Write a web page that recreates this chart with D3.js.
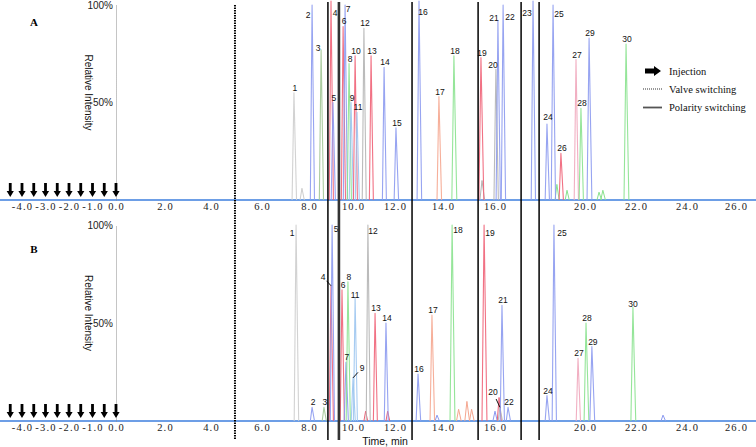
<!DOCTYPE html>
<html>
<head>
<meta charset="utf-8">
<script src="https://cdn.jsdelivr.net/npm/d3@7"></script>
<style>
  body { margin: 0; background: #fff; }
  svg { display: block; }
</style>
</head>
<body>
<div id="chart"></div>
<script>
// ---- data ----
const xTickValues = [-4, -3, -2, -1, 0, 2, 4, 6, 8, 10, 12, 14, 16, 20, 22, 24, 26];
const yTickValues = [50, 100];
const injectionTimes = [-4.5, -4, -3.5, -3, -2.5, -2, -1.5, -1, -0.5, 0];
const valveTimes = [4.94];
const polarityTimes = [8.86, 9.36, 12.71, 15.35, 17.16, 17.96];

// panel A: labelled peaks
const peakIdA = [1, 2, 3, 4, 5, 6, 7, 8, 9, 10, 11, 12, 13, 14, 15, 16, 17, 18, 19, 20, 21, 22, 23, 24, 25, 26, 27, 28, 29, 30];
const peakTimeA = [7.36, 8.14, 8.55, 9.0, 9.09, 9.55, 9.64, 9.82, 9.91, 10.1, 10.19, 10.52, 10.86, 11.48, 12.04,
    13.0, 13.83, 14.42, 15.46, 16.04, 16.13, 16.36, 17.69, 18.31, 18.58, 18.93, 19.6, 19.82, 20.16, 21.61];
const peakHeightA = [55, 100, 77, 102, 50, 89, 100, 70, 50, 74, 45, 88, 74, 68, 37,
    102, 53, 74, 73, 67, 92, 100, 102, 39, 100, 24, 72, 47, 83, 80];
const peakTraceA = ['pale', 'blue', 'olive', 'red', 'blue', 'red', 'blue', 'green', 'sky', 'red', 'sky', 'grey', 'red', 'blue', 'blue',
    'blue', 'salmon', 'green', 'red', 'grey', 'blue', 'blue', 'blue', 'blue', 'blue', 'red', 'pink', 'green', 'blue', 'green'];
// panel A: small unlabelled peaks
const minorTimeA = [7.7, 15.5, 18.75, 19.2, 20.55, 20.7];
const minorHeightA = [6, 10, 8, 5, 4, 5];
const minorTraceA = ['pale', 'grey', 'green', 'green', 'green', 'green'];

// panel B: labelled peaks
const peakIdB = [1, 2, 3, 4, 5, 6, 7, 8, 9, 11, 12, 13, 14, 16, 17, 18, 19, 20, 21, 22, 24, 25, 27, 28, 29, 30];
const peakTimeB = [7.45, 8.14, 8.68, 9.0, 9.05, 9.5, 9.68, 9.77, 10.0, 10.1, 10.71, 11.05, 11.57,
    12.96, 13.54, 14.35, 15.58, 16.22, 16.31, 16.58, 18.31, 18.62, 19.69, 20.04, 20.27, 21.88];
const peakHeightB = [100, 7, 7, 69, 100, 67, 30, 71, 22, 63, 100, 55, 50,
    24, 54, 100, 100, 7, 59, 7, 13, 100, 32, 50, 38, 58];
const peakTraceB = ['pale', 'blue', 'olive', 'red', 'blue', 'red', 'blue', 'green', 'sky', 'sky', 'grey', 'red', 'blue',
    'blue', 'salmon', 'green', 'red', 'grey', 'blue', 'blue', 'blue', 'blue', 'pink', 'green', 'blue', 'green'];
// panel B: small unlabelled peaks
const minorTimeB = [10.6, 11.65, 13.75, 14.6, 14.92, 15.1, 16.0, 16.18, 23.06];
const minorHeightB = [5, 5, 3, 6, 10, 6, 5, 12, 3];
const minorTraceB = ['red', 'red', 'blue', 'salmon', 'salmon', 'salmon', 'blue', 'red', 'blue'];

// ---- layout ----
const width = 756, height = 447;
const traceColor = d3.scaleOrdinal()
    .domain(['pale', 'grey', 'blue', 'green', 'olive', 'red', 'salmon', 'pink', 'sky'])
    .range(['#cdcdcd', '#b4b4b4', '#8c9af0', '#8ae28e', '#a2c696', '#ef6277', '#f5a68f', '#f0a6bb', '#9cc5ef']);

// the figure is spliced from several exports, so the time axis is piecewise
const x = d3.scaleLinear()
    .domain([-4, 0, 2, 4, 6, 8, 10, 12, 14, 16, 20, 22, 24, 26])
    .range([22, 116, 165, 211, 262, 309, 353, 395, 443, 495, 585, 636, 687, 736]);

const panels = [
    {
        key: 'A', top: 5, base: 200,
        ids: peakIdA, times: peakTimeA, heights: peakHeightA, traces: peakTraceA,
        minorTimes: minorTimeA, minorHeights: minorHeightA, minorTraces: minorTraceA,
        nudge: { 2: [-4, 10], 3: [-3, -2], 4: [4, 12], 7: [3, 4], 16: [4, 11], 20: [-3, -4],
                 21: [-4, -3], 22: [7, 12], 23: [-6, 12], 24: [1, -7], 25: [6, 9] },
        leaders: []
    },
    {
        key: 'B', top: 225, base: 421,
        ids: peakIdB, times: peakTimeB, heights: peakHeightB, traces: peakTraceB,
        minorTimes: minorTimeB, minorHeights: minorHeightB, minorTraces: minorTraceB,
        nudge: { 1: [-4, 8], 4: [-8, -9], 5: [4, 4], 9: [9, -10], 12: [5, 6], 18: [6, 5],
                 19: [6, 8], 20: [-7, -15], 25: [8, 8], 11: [0, -3], 30: [0, -3] },
        leaders: [4, 9, 20]
    }
];

const svg = d3.select('#chart').append('svg')
    .attr('width', width)
    .attr('height', height)
    .style('font-family', 'Liberation Sans, Arial, sans-serif');

const peakLine = (y) => d3.line()
    .x(d => x(d[0]))
    .y(d => y(d[1]));

panels.forEach(p => {
    const y = d3.scaleLinear().domain([0, 100]).range([p.base, p.top]);
    const g = svg.append('g').attr('class', 'panel-' + p.key);

    // baseline (the x axis line)
    g.append('line')
        .attr('x1', 0).attr('x2', width)
        .attr('y1', p.base).attr('y2', p.base)
        .attr('stroke', '#6d9ee6')
        .attr('stroke-width', 2);

    // y axis, dotted
    const yAxis = g.append('g')
        .attr('transform', `translate(${x(0)},0)`)
        .call(d3.axisLeft(y).tickValues(yTickValues).tickSize(0).tickSizeOuter(0).tickPadding(3)
            .tickFormat(d => d + '%'));
    yAxis.select('.domain')
        .attr('stroke', '#8a8a8a')
        .attr('stroke-dasharray', '1,1');
    yAxis.selectAll('text')
        .style('font-size', '10px')
        .style('font-family', 'Liberation Sans, Arial, sans-serif')
        .attr('fill', '#222');

    g.append('text')
        .attr('transform', `translate(88,${(p.top + p.base) / 2 - 10}) rotate(90)`)
        .attr('text-anchor', 'middle')
        .attr('dominant-baseline', 'central')
        .style('font-size', '10px')
        .attr('fill', '#111')
        .text('Relative Intensity');

    g.append('text')
        .attr('x', 34)
        .attr('y', p.top + (p.key === 'A' ? 21 : 28))
        .attr('text-anchor', 'middle')
        .style('font-family', 'Liberation Serif, Times New Roman, serif')
        .style('font-weight', 'bold')
        .style('font-size', '11px')
        .text(p.key);

    // x axis tick labels
    const xAxis = g.append('g')
        .attr('transform', `translate(0,${p.base})`)
        .call(d3.axisBottom(x).tickValues(xTickValues).tickSize(0).tickPadding(3)
            .tickFormat(d => d.toFixed(1)));
    xAxis.select('.domain').remove();
    xAxis.selectAll('text')
        .style('font-family', 'Liberation Serif, Times New Roman, serif')
        .style('font-size', '10.5px')
        .style('letter-spacing', '1.2px')
        .attr('fill', '#222');

    // small unlabelled peaks
    g.selectAll('path.minor')
        .data(p.minorTimes.map((t, i) => ({ t, h: p.minorHeights[i], trace: p.minorTraces[i] })))
        .join('path')
        .attr('class', 'minor')
        .attr('d', d => peakLine(y)([[d.t - 0.08, 0], [d.t, d.h], [d.t + 0.1, 0]]))
        .attr('fill', 'none')
        .attr('stroke', d => traceColor(d.trace))
        .attr('stroke-width', 1);

    // labelled peaks
    const peaks = p.ids.map((id, i) => ({ id, t: p.times[i], h: p.heights[i], trace: p.traces[i] }));
    g.selectAll('path.peak')
        .data(peaks)
        .join('path')
        .attr('class', 'peak')
        .attr('d', d => peakLine(y)([[d.t - 0.08, 0], [d.t, d.h], [d.t + 0.11, 0]]))
        .attr('fill', 'none')
        .attr('stroke', d => traceColor(d.trace))
        .attr('stroke-width', 1.1)
        .attr('stroke-opacity', 0.9)
        .attr('stroke-linejoin', 'round');

    const labelPos = d => {
        const n = p.nudge[d.id] || [1, -5];
        return [x(d.t) + n[0], y(d.h) + n[1]];
    };

    g.selectAll('line.leader')
        .data(peaks.filter(d => p.leaders.includes(d.id)))
        .join('line')
        .attr('class', 'leader')
        .attr('x1', d => { const l = labelPos(d); return l[0] + (x(d.t) - l[0]) * 0.45; })
        .attr('y1', d => { const l = labelPos(d); return l[1] + (y(d.h) - l[1]) * 0.45; })
        .attr('x2', d => x(d.t))
        .attr('y2', d => y(d.h))
        .attr('stroke', '#111')
        .attr('stroke-width', 1);

    g.selectAll('text.peak-label')
        .data(peaks)
        .join('text')
        .attr('class', 'peak-label')
        .attr('x', d => labelPos(d)[0])
        .attr('y', d => labelPos(d)[1])
        .attr('text-anchor', 'middle')
        .attr('dominant-baseline', 'central')
        .style('font-size', '8.5px')
        .attr('fill', '#111')
        .text(d => d.id);

    // injection arrows
    g.selectAll('path.inject')
        .data(injectionTimes)
        .join('path')
        .attr('class', 'inject')
        .attr('transform', d => `translate(${x(d)},${p.base - 3})`)
        .attr('d', 'M-1.4,-14 L1.4,-14 L1.4,-6 L3.6,-6 L0,0 L-3.6,-6 L-1.4,-6 Z')
        .attr('fill', '#000');
});

// switching lines run through both panels
svg.selectAll('line.valve')
    .data(valveTimes)
    .join('line')
    .attr('class', 'valve')
    .attr('x1', d => x(d)).attr('x2', d => x(d))
    .attr('y1', 5).attr('y2', 440)
    .attr('stroke', '#000')
    .attr('stroke-width', 2)
    .attr('stroke-dasharray', '1.5,1');

svg.selectAll('line.polarity')
    .data(polarityTimes)
    .join('line')
    .attr('class', 'polarity')
    .attr('x1', d => x(d)).attr('x2', d => x(d))
    .attr('y1', 2).attr('y2', 440)
    .attr('stroke', (d, i) => i === 1 ? '#333' : '#000')
    .attr('stroke-width', (d, i) => i === 1 ? 2.6 : 1.5);

svg.append('text')
    .attr('x', 385)
    .attr('y', 441)
    .attr('text-anchor', 'middle')
    .attr('dominant-baseline', 'central')
    .style('font-size', '10.5px')
    .attr('fill', '#111')
    .text('Time, min');

// legend
const legend = svg.append('g').attr('class', 'legend')
    .style('font-family', 'Liberation Serif, Times New Roman, serif')
    .style('font-size', '10.5px');
legend.append('path')
    .attr('d', 'M645,68.5 L654,68.5 L654,66 L661,71 L654,76 L654,73.5 L645,73.5 Z')
    .attr('fill', '#000');
legend.append('line')
    .attr('x1', 643).attr('x2', 662).attr('y1', 89).attr('y2', 89)
    .attr('stroke', '#333').attr('stroke-width', 1.2).attr('stroke-dasharray', '1,1');
legend.append('line')
    .attr('x1', 643).attr('x2', 662).attr('y1', 107.5).attr('y2', 107.5)
    .attr('stroke', '#555').attr('stroke-width', 1.8);
legend.selectAll('text')
    .data(['Injection', 'Valve switching', 'Polarity switching'])
    .join('text')
    .attr('x', 669)
    .attr('y', (d, i) => [71, 89, 107.5][i])
    .attr('dominant-baseline', 'central')
    .attr('fill', '#111')
    .text(d => d);
</script>
</body>
</html>
